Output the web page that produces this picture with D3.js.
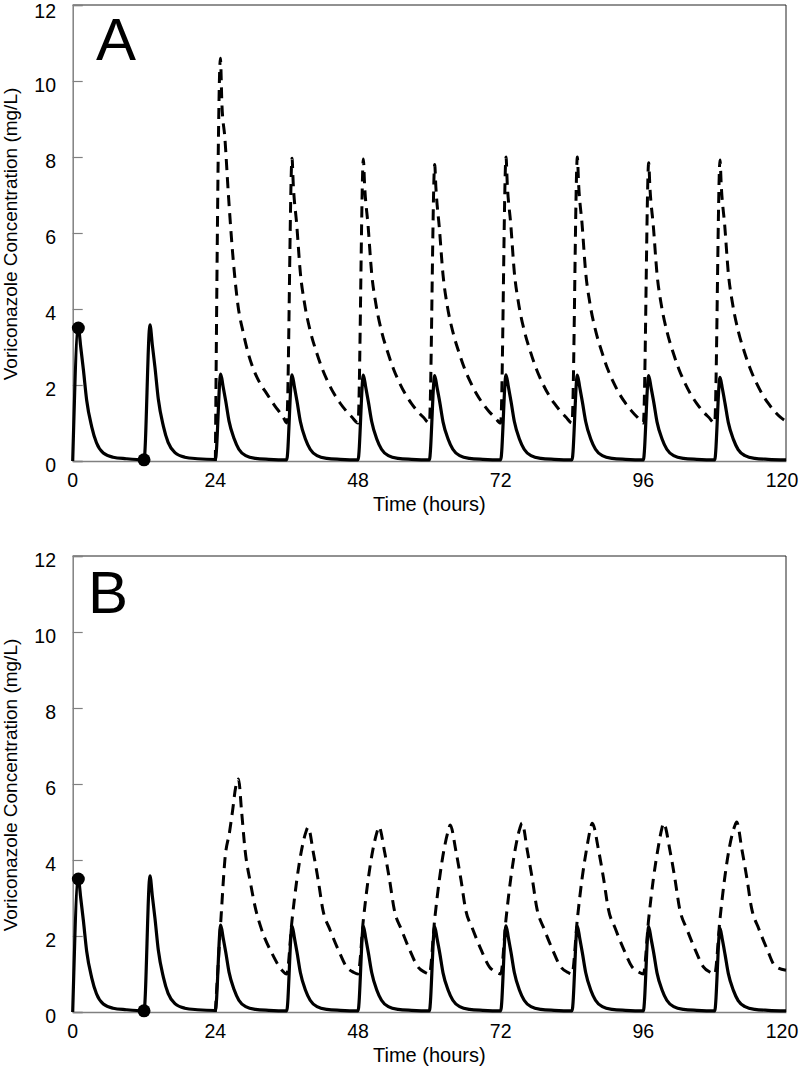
<!DOCTYPE html>
<html><head><meta charset="utf-8">
<script src="https://cdn.jsdelivr.net/npm/d3@7"></script>
<style>body{margin:0;background:#fff}svg{display:block}text{font-family:Arial,"Liberation Sans",sans-serif;fill:#000}</style>
</head><body><svg id="c" width="800" height="1075"></svg>
<script>
const xTicks = [0, 24, 48, 72, 96, 120];
const yTicks = [0, 2, 4, 6, 8, 10, 12];
const panelLabels = ["A", "B"];
const xTitle = "Time (hours)";
const yTitle = "Voriconazole Concentration (mg/L)";

// loading-dose markers [time h, conc mg/L]
const dots = [[0.95, 3.5], [12, 0.03]];

// solid line (same in both panels) [time h, conc mg/L]
const solidLine = [
 [0,0],[0.95,3.5],[1.35,3.0],[1.8,2.4],[2.35,1.6],[3.2,0.9],[4.0,0.48],[5.15,0.21],[6.8,0.1],[9,0.06],
 [12,0.03],[13.0,3.58],[13.4,3.05],[13.85,2.45],[14.4,1.63],[15.25,0.92],[16.05,0.49],[17.2,0.22],[18.85,0.1],[21,0.06],
 [24,0.04],[24.9,2.29],[25.3,1.96],[25.75,1.57],[26.3,1.05],[27.15,0.59],[27.95,0.31],[29.1,0.14],[30.75,0.07],[33,0.045],
 [36,0.03],[36.9,2.27],[37.3,1.95],[37.75,1.56],[38.3,1.04],[39.15,0.58],[39.95,0.31],[41.1,0.14],[42.75,0.07],[45,0.045],
 [48,0.03],[48.9,2.26],[49.3,1.94],[49.75,1.55],[50.3,1.04],[51.15,0.58],[51.95,0.31],[53.1,0.14],[54.75,0.07],[57,0.045],
 [60,0.03],[60.9,2.25],[61.3,1.93],[61.75,1.55],[62.3,1.03],[63.15,0.58],[63.95,0.31],[65.1,0.14],[66.75,0.07],[69,0.045],
 [72,0.03],[72.9,2.27],[73.3,1.95],[73.75,1.56],[74.3,1.04],[75.15,0.58],[75.95,0.31],[77.1,0.14],[78.75,0.07],[81,0.045],
 [84,0.03],[84.9,2.26],[85.3,1.94],[85.75,1.55],[86.3,1.04],[87.15,0.58],[87.95,0.31],[89.1,0.14],[90.75,0.07],[93,0.045],
 [96,0.03],[96.9,2.25],[97.3,1.93],[97.75,1.55],[98.3,1.03],[99.15,0.58],[99.95,0.31],[101.1,0.14],[102.75,0.07],[105,0.045],
 [108,0.03],[108.9,2.2],[109.3,1.9],[109.75,1.51],[110.3,1.01],[111.15,0.57],[111.95,0.3],[113.1,0.14],[114.75,0.07],[117,0.045],
 [120,0.03]
];

// dashed line, panel A
const dashedA = [
 [24,0],[24.85,10.6],[25.1,9.4],[25.6,8.5],[26.2,7.0],[27,5.3],[27.8,4.1],[28.7,3.37],[29.5,2.85],[30.4,2.42],[31.5,2.05],[32.7,1.76],[34,1.45],[35.4,1.16],
 [36,1.0],[36.9,7.97],[37.1,7.3],[37.7,6.2],[38.3,4.95],[39,4.15],[40,3.4],[41,2.87],[42,2.42],[43,2.06],[44,1.76],[45,1.52],[46,1.32],[47,1.15],
 [48,1.0],[48.9,7.95],[49.1,7.28],[49.7,6.18],[50.3,4.93],[51,4.14],[52,3.39],[53,2.86],[54,2.41],[55,2.05],[56,1.75],[57,1.51],[58,1.31],[59,1.15],
 [60,1.0],[60.9,7.8],[61.1,7.2],[61.7,6.1],[62.3,4.9],[63,4.1],[64,3.37],[65,2.85],[66,2.4],[67,2.05],[68,1.75],[69,1.51],[70,1.31],[71,1.15],
 [72,1.0],[72.9,8.0],[73.1,7.32],[73.7,6.22],[74.3,4.96],[75,4.16],[76,3.41],[77,2.88],[78,2.42],[79,2.06],[80,1.76],[81,1.52],[82,1.32],[83,1.15],
 [84,1.0],[84.9,8.0],[85.1,7.32],[85.7,6.22],[86.3,4.96],[87,4.16],[88,3.41],[89,2.88],[90,2.42],[91,2.06],[92,1.76],[93,1.52],[94,1.32],[95,1.15],
 [96,1.0],[96.9,7.85],[97.1,7.22],[97.7,6.15],[98.3,4.92],[99,4.13],[100,3.39],[101,2.86],[102,2.41],[103,2.05],[104,1.75],[105,1.51],[106,1.31],[107,1.15],
 [108,1.0],[108.9,7.92],[109.1,7.27],[109.7,6.18],[110.3,4.94],[111,4.15],[112,3.4],[113,2.87],[114,2.42],[115,2.06],[116,1.76],[117,1.52],[118,1.32],[119,1.16],
 [120,1.05]
];

// dashed line, panel B
const dashedB = [
 [24,0],[25,2.6],[25.6,4.0],[26.4,4.75],[26.9,5.3],[27.4,5.9],[27.9,6.13],[28.4,5.3],[29,4.26],[29.9,3.4],[30.7,2.76],[31.8,2.16],[33.5,1.55],[35.2,1.1],
 [36,1.0],[36.9,2.42],[37.7,3.47],[38.5,4.26],[39.2,4.72],[39.6,4.86],[40.5,4.18],[41.3,3.47],[42.1,2.68],[43.3,2.16],[44.7,1.63],[46.1,1.18],[47.2,1.05],
 [48,1.0],[48.9,2.43],[49.7,3.48],[50.5,4.27],[51.2,4.74],[51.5,4.88],[52.5,4.19],[53.3,3.48],[54.1,2.69],[55.3,2.17],[56.7,1.63],[58.1,1.18],[59.2,1.05],
 [60,1.0],[60.9,2.44],[61.7,3.5],[62.5,4.3],[63.2,4.78],[63.5,4.92],[64.5,4.21],[65.3,3.5],[66.1,2.7],[67.3,2.18],[68.7,1.64],[70.1,1.19],[71.2,1.05],
 [72,1.0],[72.9,2.45],[73.7,3.52],[74.5,4.33],[75.2,4.82],[75.6,4.97],[76.5,4.23],[77.3,3.52],[78.1,2.72],[79.3,2.19],[80.7,1.65],[82.1,1.19],[83.2,1.05],
 [84,1.0],[84.9,2.45],[85.7,3.52],[86.5,4.33],[87.1,4.82],[87.4,4.97],[88.5,4.23],[89.3,3.52],[90.1,2.72],[91.3,2.19],[92.7,1.65],[94.1,1.19],[95.2,1.05],
 [96,1.0],[96.9,2.45],[97.7,3.52],[98.5,4.33],[99.1,4.82],[99.4,4.97],[100.5,4.23],[101.3,3.52],[102.1,2.72],[103.3,2.19],[104.7,1.65],[106.1,1.19],[107.2,1.05],
 [108,1.0],[108.9,2.46],[109.7,3.54],[110.5,4.35],[111.3,4.86],[111.7,5.0],[112.6,4.26],[113.4,3.54],[114.2,2.74],[115.4,2.2],[116.8,1.66],[118.2,1.2],[120,1.1]
];

const panels = [
  {label: panelLabels[0], top: 5, bottom: 461, dashed: dashedA, lx: 96, ly: 60},
  {label: panelLabels[1], top: 556, bottom: 1012, dashed: dashedB, lx: 88, ly: 613}
];

const svg = d3.select("#c");
const x = d3.scaleLinear().domain([0, 120]).range([72.7, 786]);

panels.forEach(p => {
  const y = d3.scaleLinear().domain([0, 12]).range([p.bottom, p.top]);
  const g = svg.append("g");

  // frame
  g.append("line").attr("x1", x(0)).attr("x2", x(120)).attr("y1", p.top).attr("y2", p.top).attr("stroke", "#222").attr("stroke-width", 1);
  g.append("line").attr("x1", x(120)).attr("x2", x(120)).attr("y1", p.top).attr("y2", p.bottom).attr("stroke", "#222").attr("stroke-width", 1);

  // y axis (ticks inward)
  const ya = g.append("g").attr("transform", `translate(${x(0)},0)`)
    .call(d3.axisRight(y).tickValues(yTicks).tickSize(10).tickFormat(""));
  ya.select(".domain").attr("stroke", "#808080").attr("stroke-width", 1.5);
  ya.selectAll(".tick line").attr("stroke", "#808080").attr("stroke-width", 1.2);
  g.selectAll(".ylab").data(yTicks).enter().append("text")
    .attr("x", 56).attr("y", d => Math.max(y(d) + 10.5, 18))
    .attr("text-anchor", "end").attr("font-size", 19.5).text(d => d);

  // x axis
  const xa = g.append("g").attr("transform", `translate(0,${p.bottom})`)
    .call(d3.axisTop(x).tickValues(xTicks).tickSize(0).tickFormat(""));
  xa.select(".domain").attr("stroke", "#808080").attr("stroke-width", 1.5);
  g.selectAll(".xlab").data(xTicks).enter().append("text")
    .attr("x", d => Math.min(x(d), 782)).attr("y", p.bottom + 26)
    .attr("text-anchor", "middle").attr("font-size", 19.5).text(d => d);

  // titles
  g.append("text").attr("x", (x(0) + x(120)) / 2).attr("y", p.bottom + 50)
    .attr("text-anchor", "middle").attr("font-size", 20).text(xTitle);
  g.append("text").attr("transform", `translate(17,${(p.top + p.bottom) / 2 + 1}) rotate(-90)`)
    .attr("text-anchor", "middle").attr("font-size", 19).text(yTitle);

  // panel label
  g.append("text").attr("x", p.lx).attr("y", p.ly).attr("font-size", 60).text(p.label);

  const line = d3.line().x(d => x(d[0])).y(d => y(d[1])).curve(d3.curveMonotoneX);

  g.append("path").datum(p.dashed).attr("d", line)
    .attr("fill", "none").attr("stroke", "#000").attr("stroke-width", 3)
    .attr("stroke-dasharray", "11,7");
  g.append("path").datum(solidLine).attr("d", line)
    .attr("fill", "none").attr("stroke", "#000").attr("stroke-width", 3.2)
    .attr("stroke-linejoin", "round");
  g.selectAll(".dot").data(dots).enter().append("circle")
    .attr("cx", d => x(d[0])).attr("cy", d => y(d[1])).attr("r", 6.5).attr("fill", "#000");
});
</script></body></html>
